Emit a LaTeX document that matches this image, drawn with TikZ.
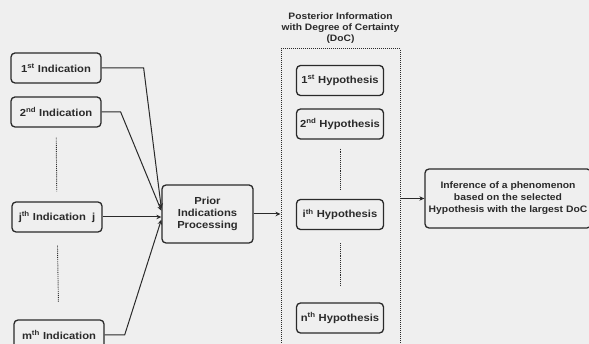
\documentclass[tikz,border=0pt]{standalone}
\usepackage{fontspec}
\setmainfont{Liberation Sans}[FakeStretch=1.1]
\usepackage{tikz}
\usetikzlibrary{arrows.meta,positioning,calc}
\definecolor{scanInk}{HTML}{2A2A2A}
\definecolor{scanPaper}{HTML}{EFEFEF}
\tikzset{
  indBox/.style={draw=scanInk, line width=1.3pt, rounded corners=4pt, align=center, minimum width=90pt, minimum height=30pt, inner sep=1pt, text=scanInk, font=\bfseries\fontsize{10.2}{12}\selectfont},
  hypBox/.style={indBox, minimum width=87pt, minimum height=30pt},
  procBox/.style={indBox, minimum width=91pt, minimum height=58pt},
  inferBox/.style={indBox, minimum width=166pt, minimum height=59pt, font=\bfseries\fontsize{9.4}{12}\selectfont},
  postFrame/.style={draw=scanInk, line width=1pt, densely dotted, minimum width=119pt, minimum height=331pt, inner sep=0pt},
  flowArrow/.style={-{Stealth[length=5pt,width=4.5pt]}, line width=1pt, draw=scanInk},
  dotLink/.style={draw=scanInk, line width=0.9pt, densely dotted},
  titleLabel/.style={font=\bfseries\fontsize{9.3}{11}\selectfont, align=center, text=scanInk, inner sep=0pt}
}
\begin{document}
\begin{tikzpicture}[x=1pt,y=-1pt]
  \clip (0,0) rectangle (589,344);
  \fill[scanPaper] (0,0) rectangle (589,344);
  % indications
  \node[indBox] (ind1) at (56,68) {1\textsuperscript{st} Indication};
  \node[indBox] (ind2) at (56,112) {2\textsuperscript{nd} Indication};
  \node[indBox] (indj) at (57,217) {j\textsuperscript{th} Indication\ \ j};
  \node[indBox] (indm) at (59,335) {m\textsuperscript{th} Indication};
  \draw[dotLink, shorten <=10pt, shorten >=10pt] (ind2) -- (indj);
  \draw[dotLink, shorten <=13pt, shorten >=17pt] (indj) -- (indm);
  % processing
  \node[procBox] (prior) at (207.5,214) {Prior\\Indications\\Processing};
  \draw[flowArrow] (ind1.east) -- ++(42,0) -- (prior.173);
  \draw[flowArrow] (ind2.east) -- ++(19,0) -- (prior.176);
  \draw[flowArrow] (indj.east) -- (indj.east -| prior.west);
  \draw[flowArrow] (indm.east) -- ++(20,0) -- (prior.187);
  % posterior frame
  \node[postFrame] (post) at (340.5,214.5) {};
  \node[titleLabel, above=5pt of post.north] (postTitle) {Posterior Information\\with Degree of Certainty\\(DoC)};
  \node[hypBox] (hyp1) at (340,80.5) {1\textsuperscript{st} Hypothesis};
  \node[hypBox] (hyp2) at (340,124) {2\textsuperscript{nd} Hypothesis};
  \node[hypBox] (hypi) at (340,214.5) {i\textsuperscript{th} Hypothesis};
  \node[hypBox] (hypn) at (340,318) {n\textsuperscript{th} Hypothesis};
  \draw[dotLink, shorten <=9pt, shorten >=10pt] (hyp2) -- (hypi);
  \draw[dotLink, shorten <=13pt, shorten >=16pt] (hypi) -- (hypn);
  \draw[flowArrow] (prior.east) -- (prior.east -| post.west);
  % inference
  \node[inferBox] (infer) at (508,198.5) {Inference of a phenomenon\\based on the selected\\Hypothesis with the largest DoC};
  \draw[flowArrow] (post.east |- infer.west) -- (infer.west);
\end{tikzpicture}
\end{document}
